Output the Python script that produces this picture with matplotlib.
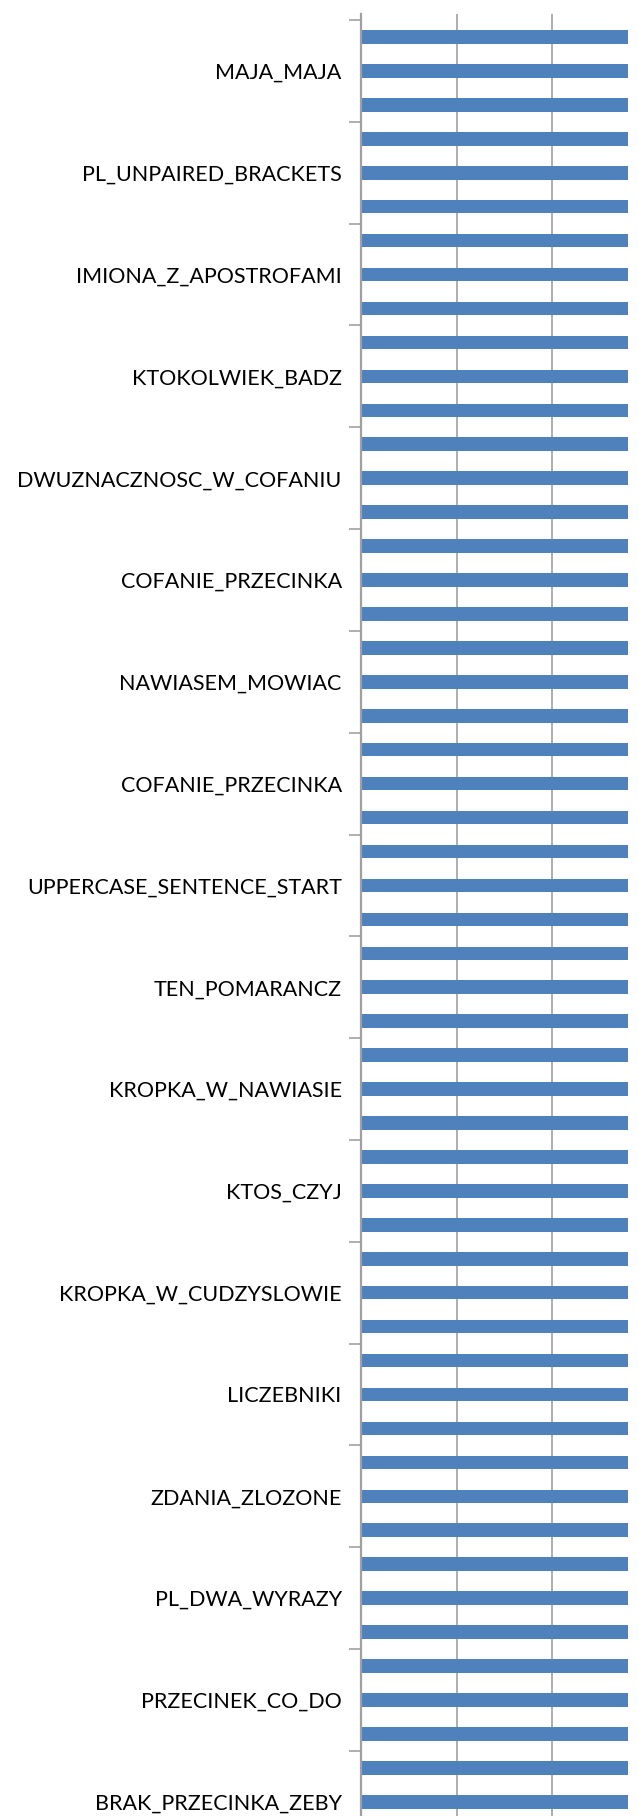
import matplotlib
matplotlib.use("Agg")
import matplotlib.pyplot as plt
import numpy as np

# one label per group of three bars
labels = [
    "MAJA_MAJA", "PL_UNPAIRED_BRACKETS", "IMIONA_Z_APOSTROFAMI",
    "KTOKOLWIEK_BADZ", "DWUZNACZNOSC_W_COFANIU", "COFANIE_PRZECINKA",
    "NAWIASEM_MOWIAC", "COFANIE_PRZECINKA", "UPPERCASE_SENTENCE_START",
    "TEN_POMARANCZ", "KROPKA_W_NAWIASIE", "KTOS_CZYJ",
    "KROPKA_W_CUDZYSLOWIE", "LICZEBNIKI", "ZDANIA_ZLOZONE",
    "PL_DWA_WYRAZY", "PRZECINEK_CO_DO", "BRAK_PRZECINKA_ZEBY",
]

values = [
    3, 3, 3,  3, 3, 3,  3, 3, 3,  3, 3, 3,  3, 3, 3,  3, 3, 3,
    3, 3, 3,  3, 3, 3,  3, 3, 3,  3, 3, 3,  3, 3, 3,  3, 3, 3,
    3, 3, 3,  3, 3, 3,  3, 3, 3,  3, 3, 3,  3, 3, 3,  3, 3, 3,
]

W, H = 638, 1816
fig = plt.figure(figsize=(W / 100, H / 100), dpi=100)
ax = fig.add_axes([361 / W, 0, (627.7 - 361) / W, (H - 14) / H])

pos = np.arange(len(values))
ax.barh(pos, values, height=0.40, color="#4f81bd", zorder=2)

ax.set_xlim(0, 2.787)
ax.set_ylim(52.42, -0.678)

ax.set_xticks([1, 2])
ax.xaxis.grid(True, color="#999999", linewidth=1.1)
ax.set_axisbelow(True)
ax.tick_params(axis="x", length=0, labelbottom=False)

ax.set_yticks(np.arange(-0.5, len(values) - 2, 3))
ax.set_yticklabels([])
ax.tick_params(axis="y", which="major", length=8.6, width=1.1,
               color="#999999", direction="out")
ax.set_yticks(np.arange(1, len(values), 3), minor=True)
ax.set_yticklabels(labels, minor=True, fontsize=15.5,
                   family=["Lato", "DejaVu Sans"])
ax.tick_params(axis="y", which="minor", length=0, pad=13.9)

for s in ["top", "right", "bottom"]:
    ax.spines[s].set_visible(False)
ax.spines["left"].set_color("#a0a0a0")
ax.spines["left"].set_linewidth(1.6)

fig.savefig("out.png", dpi=100)
